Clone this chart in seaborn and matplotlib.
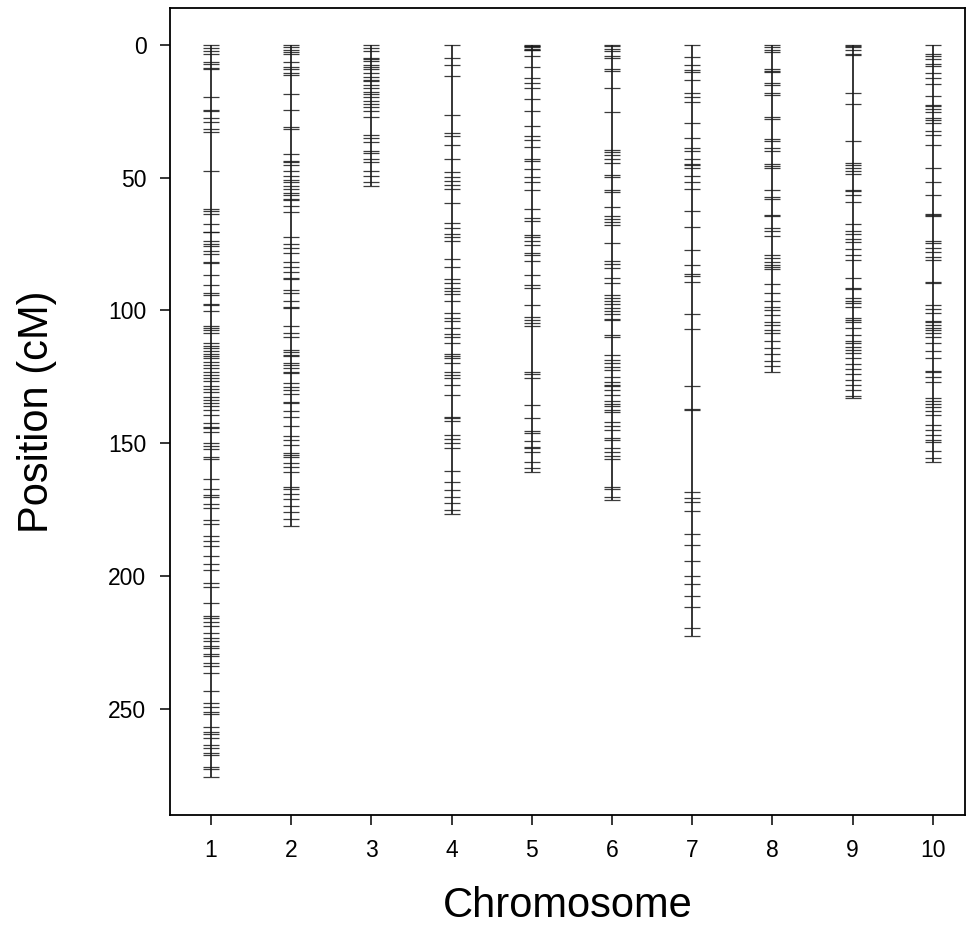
import numpy as np
import pandas as pd
import matplotlib
matplotlib.use("Agg")
import matplotlib.pyplot as plt
import seaborn as sns

chromosomes = [1, 2, 3, 4, 5, 6, 7, 8, 9, 10]

chr1 = [0, 1.3, 2.5, 3.5, 6.3, 7.3, 8.8, 9.2, 19.8, 24.5, 24.8, 27.6, 29.1, 31.6, 32.9, 47.4,
        61.7, 62.7, 63.7, 67.5, 70.3, 70.5, 73.8, 75.0, 75.9, 77.5, 78.8, 81.6, 82.2, 86.8,
        90.3, 93.5, 94.1, 97.6, 98.1, 100.1, 106.0, 106.6, 107.3, 108.5, 112.3, 113.2, 114.2,
        115.2, 116.4, 117.3, 117.9, 119.2, 120.4, 121.7, 123.0, 124.2, 125.5, 126.7, 128.6,
        129.5, 130.7, 132.4, 133.6, 134.7, 135.9, 137.4, 139.3, 142.4, 143.7, 144.3, 145.8,
        150.0, 151.0, 152.2, 155.2, 156.0, 163.4, 167.3, 169.4, 170.1, 172.8, 174.5, 178.8,
        180.3, 184.9, 186.6, 188.5, 192.4, 195.4, 197.7, 202.4, 204.2, 210.0, 215.0, 215.9,
        217.2, 218.8, 221.5, 223.4, 224.3, 226.3, 227.2, 229.3, 230.0, 232.8, 233.8, 236.3,
        243.1, 247.6, 249.1, 251.0, 251.9, 256.9, 258.5, 259.4, 260.7, 263.6, 264.8, 266.4,
        267.3, 271.7, 272.7, 275.5]
chr2 = [0, 1.0, 1.9, 2.8, 3.5, 6.3, 8.5, 9.0, 10.7, 11.3, 18.6, 24.5, 31.1, 31.6, 41.2, 43.7,
        44.2, 45.4, 47.4, 49.2, 50.8, 51.5, 53.1, 54.3, 55.8, 56.5, 58.1, 58.6, 60.6, 62.8,
        72.2, 74.9, 76.6, 78.2, 81.6, 83.7, 85.7, 87.9, 88.2, 92.2, 93.5, 96.3, 98.5, 99.1,
        106.0, 108.6, 109.8, 114.8, 115.8, 116.7, 117.3, 119.6, 120.5, 121.7, 123.0, 123.6,
        127.4, 128.9, 130.1, 131.4, 134.3, 134.7, 138.0, 139.9, 143.4, 147.2, 148.7, 150.6,
        153.5, 154.4, 155.0, 157.5, 159.0, 160.6, 166.3, 167.3, 169.0, 171.1, 173.5, 176.0,
        178.5, 181.0]
chr3 = [0, 1.3, 2.3, 4.8, 5.3, 6.0, 7.5, 8.5, 9.0, 10.7, 12.3, 13.2, 13.8, 15.3, 16.3, 17.8,
        18.6, 19.8, 21.1, 22.3, 23.6, 24.8, 27.0, 33.9, 34.9, 36.6, 39.9, 40.8, 42.9, 44.3,
        47.5, 49.5, 51.5, 53.0]
chr4 = [0, 5.0, 7.5, 11.9, 26.4, 33.3, 34.5, 37.7, 42.9, 47.7, 49.6, 51.2, 52.7, 54.2, 59.6,
        67.1, 69.0, 71.3, 72.2, 74.0, 80.6, 83.5, 88.1, 89.7, 91.6, 92.6, 93.9, 96.6, 101.0,
        102.7, 103.9, 106.7, 108.9, 109.8, 112.3, 116.5, 117.3, 118.0, 119.9, 123.0, 124.2,
        125.5, 128.0, 131.8, 140.0, 140.6, 141.6, 146.8, 148.4, 150.0, 151.9, 160.4, 164.4,
        167.5, 170.0, 172.5, 175.0, 176.5]
chr5 = [0, 0.3, 0.5, 1.0, 1.5, 1.9, 2.0, 4.4, 8.2, 12.5, 14.4, 16.3, 20.3, 24.8, 30.7, 34.5,
        35.8, 38.3, 42.9, 43.7, 46.7, 49.6, 51.5, 54.6, 61.8, 65.3, 66.3, 71.5, 72.5, 73.8,
        75.3, 78.4, 79.3, 81.3, 86.6, 90.4, 91.6, 97.9, 102.3, 103.5, 104.8, 106.0, 123.0,
        124.0, 125.5, 135.5, 140.6, 145.3, 146.2, 149.1, 151.2, 151.8, 153.1, 156.9, 159.4,
        160.9]
chr6 = [0, 0.3, 1.5, 2.5, 4.4, 5.0, 9.0, 10.0, 16.1, 25.4, 39.5, 40.4, 41.4, 42.9, 44.6, 48.9,
        49.6, 54.6, 55.5, 60.9, 64.6, 65.5, 66.8, 68.0, 74.7, 81.3, 82.6, 84.1, 87.6, 89.7,
        94.1, 95.4, 96.4, 97.6, 98.9, 100.1, 101.4, 103.2, 103.5, 109.2, 109.8, 116.7, 118.6,
        119.9, 121.1, 122.4, 124.9, 126.8, 128.0, 128.6, 129.9, 131.8, 134.0, 135.3, 135.8,
        137.4, 138.3, 141.8, 143.3, 144.9, 148.1, 148.7, 151.9, 153.1, 154.6, 155.9, 166.3,
        167.2, 170.1, 171.3]
chr7 = [0, 4.6, 7.5, 9.5, 10.3, 13.2, 18.1, 19.6, 21.4, 29.3, 35.1, 38.7, 40.1, 43.0, 44.9,
        45.2, 46.3, 49.5, 51.6, 54.1, 62.7, 68.5, 77.1, 82.9, 86.2, 86.9, 89.1, 101.3, 106.8,
        128.4, 137.0, 137.6, 168.2, 170.7, 172.1, 175.4, 184.1, 188.4, 194.2, 199.9, 202.8,
        207.6, 211.4, 219.3, 222.5]
chr8 = [0, 1.0, 1.9, 2.8, 9.0, 9.8, 10.3, 14.4, 15.3, 18.2, 18.8, 27.0, 27.9, 35.4, 36.1,
        38.7, 39.9, 44.9, 45.8, 46.2, 54.6, 57.1, 58.0, 64.0, 64.6, 69.0, 70.0, 71.8, 79.3,
        80.3, 81.6, 82.8, 83.8, 84.3, 90.1, 93.5, 96.6, 98.5, 99.8, 101.7, 104.2, 105.4,
        107.3, 108.6, 111.5, 114.0, 116.5, 119.0, 121.0, 123.0]
chr9 = [0, 0.3, 1.0, 1.9, 3.5, 4.0, 18.2, 22.3, 36.4, 44.6, 45.2, 46.2, 47.4, 48.7, 54.6,
        55.2, 56.7, 59.2, 67.5, 70.0, 71.3, 73.0, 74.3, 76.8, 79.3, 81.0, 87.9, 91.4, 91.9,
        95.4, 96.4, 97.3, 98.5, 102.7, 103.5, 104.2, 106.7, 109.2, 111.4, 112.3, 113.6,
        114.8, 116.1, 118.0, 120.0, 122.0, 124.0, 126.0, 128.0, 130.0, 132.0, 133.0]
chr10 = [0, 3.5, 4.4, 5.3, 7.3, 7.8, 10.7, 12.5, 14.8, 19.1, 22.6, 23.2, 24.1, 25.4, 27.4,
         28.2, 29.5, 32.4, 34.1, 37.7, 46.2, 51.5, 56.5, 63.8, 64.2, 64.6, 73.8, 74.7, 76.3,
         77.8, 79.7, 80.9, 89.1, 89.7, 97.9, 99.4, 101.0, 103.9, 104.4, 105.4, 106.4, 107.3,
         108.6, 109.8, 112.3, 115.2, 117.7, 122.7, 123.2, 125.2, 127.0, 133.0, 134.0, 135.3,
         136.5, 137.8, 139.3, 143.1, 144.9, 146.8, 148.7, 149.6, 152.8, 155.4, 157.1]

marker_lists = [chr1, chr2, chr3, chr4, chr5, chr6, chr7, chr8, chr9, chr10]
y_ticks = [0, 50, 100, 150, 200, 250]

rows = []
for c, pos in zip(chromosomes, marker_lists):
    for p in pos:
        rows.append({"Chromosome": c, "Position": p})
df = pd.DataFrame(rows)

sns.set_style("ticks")
plt.rcParams['font.family'] = ['Liberation Sans', 'DejaVu Sans']
plt.rcParams['text.color'] = 'black'
plt.rcParams['axes.labelcolor'] = 'black'
plt.rcParams['xtick.color'] = 'black'
plt.rcParams['ytick.color'] = 'black'

fig = plt.figure(figsize=(9.66, 9.47), dpi=100)
ax = fig.add_axes([0.176, 0.139, 0.823, 0.853])

# chromosome backbones
span = df.groupby("Chromosome")["Position"].agg(["min", "max"]).reset_index()
ax.vlines(span["Chromosome"], span["min"], span["max"], color="black", lw=1.1, zorder=2)

# markers
sns.scatterplot(data=df, x="Chromosome", y="Position", marker="_", s=120,
                color="#1a1a1a", linewidth=0.9, alpha=0.85, ax=ax, zorder=3, legend=False)

ax.set_xlim(0.49, 10.4)
ax.set_ylim(290, -14)
ax.set_xticks(chromosomes)
ax.set_xticklabels([str(c) for c in chromosomes])
ax.set_yticks(y_ticks)
ax.set_yticklabels([str(v) for v in y_ticks])
ax.tick_params(axis="both", labelsize=16.5, length=7, width=1.1, direction="out", pad=10,
               colors="black")
for sp in ax.spines.values():
    sp.set_linewidth(1.3)
    sp.set_color("black")
    sp.set_visible(True)
ax.set_xlabel("Chromosome", fontsize=30, labelpad=17)
ax.set_ylabel("Position (cM)", fontsize=30, labelpad=37)

fig.savefig("out.png", dpi=100)
